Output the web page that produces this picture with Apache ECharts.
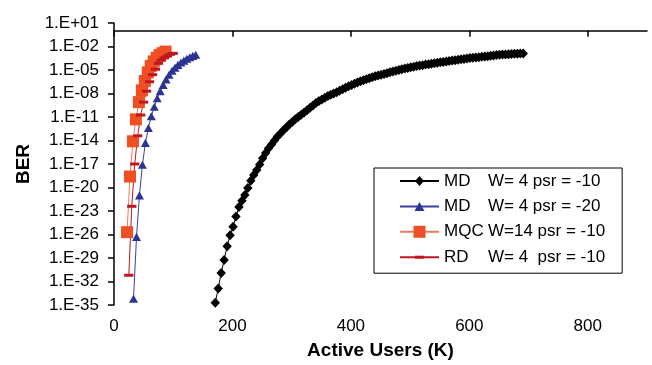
<!DOCTYPE html>
<html><head><meta charset="utf-8">
<script src="https://cdn.jsdelivr.net/npm/echarts@6/dist/echarts.min.js"></script>
<style>html,body{margin:0;padding:0;background:#fff}#c{width:652px;height:365px}</style>
</head><body><div id="c"></div>
<script>
// ---- data (y values are log10(BER)) ----
const xTickValues = [0, 200, 400, 600, 800];
const yTickExponents = [-35, -32, -29, -26, -23, -20, -17, -14, -11, -8, -5, -2, 1];
const yTickLabels = ['1.E-35','1.E-32','1.E-29','1.E-26','1.E-23','1.E-20','1.E-17','1.E-14','1.E-11','1.E-08','1.E-05','1.E-02','1.E+01'];
const seriesNames = ['MD    W= 4 psr = -10', 'MD    W= 4 psr = -20', 'MQC W=14 psr = -10', 'RD    W= 4  psr = -10'];

const mdP10Users = [171,176,181,186,191,196,201,206,211,216,221,226,231,236,241,246,251,256,261,266,271,276,281,286,291,296,301,306,311,316,321,326,331,336,341,346,351,356,361,366,371,376,381,386,391,396,401,406,411,416,421,426,431,436,441,446,451,456,461,466,471,476,481,486,491,496,501,506,511,516,521,526,531,536,541,546,551,556,561,566,571,576,581,586,591,596,601,606,611,616,621,626,631,636,641,646,651,656,661,666,671,676,681,686,691];
const mdP10LogBer = [-34.7,-32.9,-30.9,-29.25,-27.5,-26.1,-25.0,-23.7,-22.5,-21.7,-20.95,-20.05,-19.15,-18.4,-17.75,-17.05,-16.25,-15.6,-15.0,-14.5,-14.0,-13.5,-13.1,-12.7,-12.35,-11.97,-11.65,-11.3,-11.0,-10.7,-10.43,-10.14,-9.83,-9.52,-9.2,-8.97,-8.75,-8.53,-8.33,-8.17,-8.01,-7.85,-7.66,-7.46,-7.27,-7.08,-6.9,-6.76,-6.6,-6.45,-6.3,-6.18,-6.05,-5.93,-5.8,-5.69,-5.6,-5.5,-5.4,-5.3,-5.2,-5.1,-4.99,-4.9,-4.82,-4.74,-4.66,-4.58,-4.5,-4.44,-4.38,-4.31,-4.25,-4.19,-4.13,-4.08,-4.02,-3.97,-3.91,-3.86,-3.8,-3.75,-3.69,-3.63,-3.58,-3.52,-3.48,-3.44,-3.4,-3.36,-3.32,-3.28,-3.24,-3.19,-3.15,-3.1,-3.06,-3.03,-3.01,-2.98,-2.96,-2.94,-2.92,-2.9,-2.88];

const mdP20Users = [33,38,43,48,53,58,63,68,73,78,83,88,93,98,103,108,113,118,123,128,133,138];
const mdP20LogBer = [-34.2,-26.3,-21.0,-17.1,-14.3,-12.4,-10.9,-9.7,-8.6,-7.7,-6.9,-6.2,-5.6,-5.1,-4.7,-4.35,-4.05,-3.8,-3.57,-3.37,-3.2,-3.05];

const mqcUsers = [22,27,32,37,42,47,52,57,62,67,72,77,82,87];
const mqcLogBer = [-25.7,-18.6,-14.1,-11.3,-9.1,-7.6,-6.4,-5.3,-4.5,-3.9,-3.45,-3.1,-2.85,-2.65];

const rdUsers = [25,30,35,40,45,50,55,60,65,70,75,80,85,90,95,100];
const rdLogBer = [-31.2,-22.4,-17.0,-13.4,-10.75,-9.1,-7.7,-6.5,-5.6,-4.9,-4.15,-3.75,-3.45,-3.2,-3.0,-2.87];

// ---- chart ----
const pair = (xs, ys) => xs.map((x, i) => [x, ys[i]]);
const FONT = 'Liberation Sans';
const diamondPath = 'path://M6,1 L10.5,6 L6,11 L1.5,6 Z M0,0 M12,12';
const trianglePath = 'path://M6,1.5 L11,10.5 L1,10.5 Z M0,0 M12,12';
const dashPath = 'path://M1.35,4.5 L10.65,4.5 L10.65,7.5 L1.35,7.5 Z M0,0 M12,12';

const chart = echarts.init(document.getElementById('c'), null, {renderer: 'canvas'});
chart.setOption({
  animation: false,
  backgroundColor: '#fff',
  textStyle: {fontFamily: FONT},
  grid: {left: 114, right: 5, top: 23, bottom: 57.5, containLabel: false},
  xAxis: {
    type: 'value', min: 0, max: 900,
    name: 'Active Users (K)', nameLocation: 'middle', nameGap: 36,
    nameTextStyle: {fontFamily: FONT, fontSize: 19, fontWeight: 'bold', color: '#000'},
    axisLine: {show: true, lineStyle: {color: '#000', width: 1.5}},
    axisTick: {show: true, length: 6, lineStyle: {color: '#000', width: 1.5}, customValues: xTickValues},
    axisLabel: {fontFamily: FONT, fontSize: 17, color: '#000', margin: 13, customValues: xTickValues},
    splitLine: {show: false}
  },
  yAxis: {
    type: 'value', min: -35, max: 1,
    name: 'BER', nameLocation: 'middle', nameGap: 74,
    nameTextStyle: {fontFamily: FONT, fontSize: 19, fontWeight: 'bold', color: '#000'},
    axisLine: {show: true, lineStyle: {color: '#000', width: 1.5}},
    axisTick: {show: true, length: 6, lineStyle: {color: '#000', width: 1.5}, customValues: yTickExponents},
    axisLabel: {fontFamily: FONT, fontSize: 17, color: '#000', margin: 15, customValues: yTickExponents,
      formatter: v => { const i = yTickExponents.indexOf(Math.round(v)); return i >= 0 ? yTickLabels[i] : ''; }},
    splitLine: {show: false}
  },
  legend: {
    orient: 'vertical', left: 374, top: 168,
    padding: [4.5, 17, 7.5, 25], itemGap: 8.4,
    itemWidth: 39, itemHeight: 15,
    backgroundColor: '#fff', borderColor: '#000', borderWidth: 1,
    data: seriesNames,
    formatter: name => { const m = name.match(/^(\S+)\s+(.*)$/); return '{a|' + m[1] + '}{b|' + m[2] + '}'; },
    textStyle: {fontFamily: FONT, fontSize: 17, color: '#000',
      rich: {a: {width: 44, fontFamily: FONT, fontSize: 17, color: '#000'}, b: {fontFamily: FONT, fontSize: 17, color: '#000'}}}
  },
  series: [
    {name: seriesNames[0], type: 'line', data: pair(mdP10Users, mdP10LogBer),
     symbol: diamondPath, symbolSize: [12.5, 12], showAllSymbol: true,
     itemStyle: {color: '#000'}, lineStyle: {color: '#000', width: 1}},
    {name: seriesNames[1], type: 'line', data: pair(mdP20Users, mdP20LogBer),
     symbol: trianglePath, symbolSize: 10.8, showAllSymbol: true,
     itemStyle: {color: '#2B3393'}, lineStyle: {color: '#3A40A0', width: 1}},
    {name: seriesNames[2], type: 'line', data: pair(mqcUsers, mqcLogBer),
     symbol: 'rect', symbolSize: 12, showAllSymbol: true,
     itemStyle: {color: '#F04E23'}, lineStyle: {color: '#F47A58', width: 1}},
    {name: seriesNames[3], type: 'line', data: pair(rdUsers, rdLogBer),
     symbol: dashPath, symbolSize: 12, showAllSymbol: true,
     itemStyle: {color: '#C0161F'}, lineStyle: {color: '#C0161F', width: 1}}
  ]
});
</script></body></html>
